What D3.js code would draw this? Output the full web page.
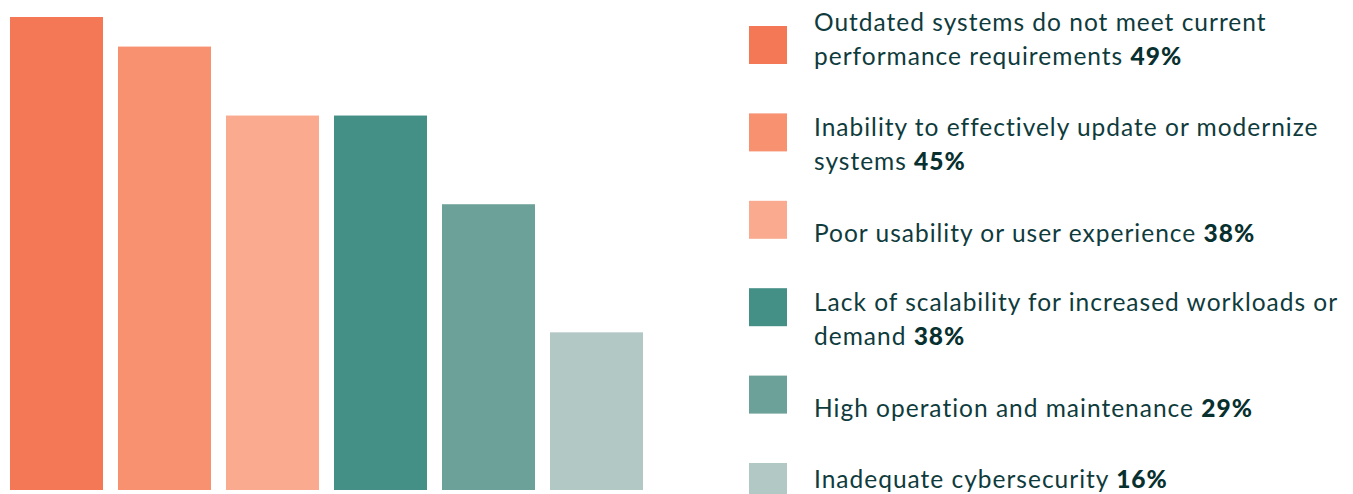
<!DOCTYPE html>
<html>
<head>
<meta charset="utf-8">
<script src="https://cdn.jsdelivr.net/npm/d3@7"></script>
<style>
  body { margin: 0; background: #fff; }
  svg { display: block; }
  .label { font-family: Lato, "Open Sans", sans-serif; font-size: 24.5px; letter-spacing: 1px; fill: #0f3b3d; }
  .pct { font-weight: 900; fill: #07302f; }
</style>
</head>
<body>
<svg width="1353" height="494"></svg>
<script>
// Challenges with legacy systems
const categories = [
    "Outdated systems do not meet current performance requirements",
    "Inability to effectively update or modernize systems",
    "Poor usability or user experience",
    "Lack of scalability for increased workloads or demand",
    "High operation and maintenance",
    "Inadequate cybersecurity"
];
const labelLines = [
    ["Outdated systems do not meet current", "performance requirements"],
    ["Inability to effectively update or modernize", "systems"],
    ["Poor usability or user experience"],
    ["Lack of scalability for increased workloads or", "demand"],
    ["High operation and maintenance"],
    ["Inadequate cybersecurity"]
];
const values = [49, 45, 38, 38, 29, 16];
const colors = ["#f57856", "#f79170", "#f9aa8f", "#449087", "#6ca199", "#b2c8c5"];

const svg = d3.select("svg");

// bars
const baseline = 490;
const x = d3.scaleBand()
    .domain(d3.range(categories.length))
    .range([10, 643])
    .paddingInner(15 / 108)
    .paddingOuter(0);

// top bar runs past the plot area in the original, so clamp it
const y = d3.scaleLinear()
    .domain([0, 48])
    .range([baseline, 17])
    .clamp(true);

svg.selectAll(".bar")
    .data(values)
    .enter()
    .append("rect")
    .attr("class", "bar")
    .attr("x", (d, i) => x(i))
    .attr("y", d => y(d))
    .attr("width", x.bandwidth())
    .attr("height", d => baseline - y(d))
    .attr("fill", (d, i) => colors[i]);

// legend
const legY = d3.scalePoint()
    .domain(d3.range(categories.length))
    .range([26, 463]);
const sw = 38;
const lineH = 34;
// first baseline offset from the swatch top (depends on line count, ends nudged)
const textOffset = [5, 23, 41, 23, 41, 25];

const items = svg.selectAll(".leg")
    .data(values)
    .enter()
    .append("g")
    .attr("class", "leg")
    .attr("transform", (d, i) => `translate(749,${legY(i)})`);

items.append("rect")
    .attr("width", sw)
    .attr("height", sw)
    .attr("fill", (d, i) => colors[i]);

items.each(function(d, i) {
    const t = d3.select(this).append("text")
        .attr("class", "label")
        .attr("x", 65)
        .attr("y", textOffset[i]);
    const lines = labelLines[i];
    lines.forEach((ln, k) => {
        t.append("tspan")
            .attr("x", 65)
            .attr("dy", k === 0 ? 0 : lineH)
            .text(ln);
        if (k === lines.length - 1) {
            t.append("tspan").text(" ");
            t.append("tspan").attr("class", "pct").text(d + "%");
        }
    });
});
</script>
</body>
</html>
